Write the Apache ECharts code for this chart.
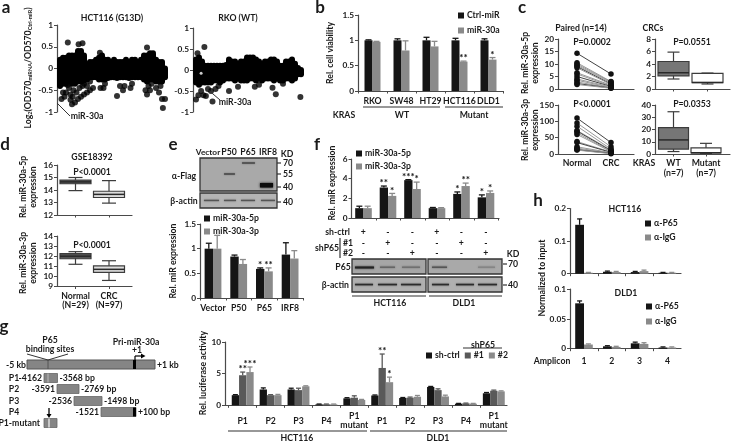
<!DOCTYPE html>
<html><head><meta charset="utf-8">
<style>html,body{margin:0;padding:0;background:#fff}#c{width:731px;height:441px}</style>
<script src="https://cdn.jsdelivr.net/npm/echarts@6/dist/echarts.min.js"></script>
</head><body><div id="c"></div>
<script>
// ---------- data ----------
// a: blob columns (top / bottom of the dense dot cloud, per miRNA column) and separate dots [column, log2 ratio]
const hctTop=[.2,.25,.25,.3,.3,.3,.4,.4,.3,.1,.15,.15,.2,.25,.3,.2,.2,.15,.2,.15,.15,.15,.2,.15,.2,.2,.15,.2,.3,.3,.35,.35,.2,.15,.15,0];
const hctBottom=[-.4,-.35,-.35,-.3,-.35,-.35,-.3,-.3,-.28,-.25,-.2,-.2,-.2,-.25,-.25,-.25,-.22,-.2,-.2,-.22,-.2,-.2,-.2,-.22,-.2,-.2,-.2,-.2,-.25,-.3,-.25,-.25,-.3,-.3,-.3,-.2];
const hctDots=[[2.6,.6],[6.2,.56],[7.5,.58],[29,.48],[13.3,.36],[.5,-.7],[1,-.55],[1.5,-.65],[2,-.55],[3,-.45],[2.5,-.38],[3.5,-.6],[4,-.82],[4.5,-.5],[5,-.78],[3.5,-.72],[4.2,-.65],[6,-.7],[7,-.65],[8,-.6],[9,-.55],[10,-.5],[5.5,-.55],[6.5,-.45],[7.5,-.4],[8,-.35],[9,-.4],[10,-.3],[11,-.45],[13.5,-.45],[14.5,-.45],[15,-.35],[19,-.63],[20,-.4],[21,-.5],[21.5,-.4],[23.5,-.45],[24,-.35],[28.5,-.5],[29,-.6],[29.5,-.4],[30,-.5],[30.5,-.35],[32,-.45],[33,-.55],[33.5,-.4],[34,-.7],[35,-.7],[34.3,-.91]];
const rkoTop=[.25,.3,.2,.1,.1,.1,.1,.1,.1,.1,.12,.25,.2,.2,.15,.2,.2,.3,.3,.3,.25,.2,.15,.2,.2,.25,.25,.2,.1,.1,.2,.2,.25,.15,.05,0];
const rkoBottom=[-.3,-.35,-.3,-.3,-.3,-.3,-.25,-.25,-.3,-.25,-.2,-.2,-.2,-.25,-.2,-.25,-.25,-.25,-.2,-.2,-.25,-.2,-.25,-.2,-.2,-.2,-.25,-.2,-.25,-.25,-.2,-.2,-.25,-.2,-.1,-.1];
const rkoDots=[[2.8,.55],[.5,.4],[0,-.7],[1.7,-.5],[.8,-.6],[2.5,-.6],[3.3,-.62],[4,-.45],[5,-.5],[5.5,-.75],[6.5,-.45],[7.5,-.38],[11,-.5],[14,-.4],[19.6,-.4],[21,-.35],[25.5,-.42],[26.6,-.58],[29,-.33],[34.8,-.64]];
const rkoWhite=[[1.7,-.08]];
// b
const bCats=['RKO','SW48','HT29','HCT116','DLD1'];
const bCtrl=[1,1,1,1,1], bCtrlErr=[.01,.03,.06,.04,.03];
const bMir=[.97,.8,.88,.58,.62], bMirErr=[.01,.19,.1,.01,.04], bStars=['','','','**','*'];
// c
const cPairCats=['Normal','CRC'];
const c5pNormal=[14.3,10.5,10,9.5,9,8.5,6.5,6,5,4,3.5,2.8,2.2,1.8];
const c5pCrc=[6,3,2.8,2.5,2,1.8,1.5,1.2,1,.8,.6,.5,.4,.3];
const c3pNormal=[110,95,85,72,70,65,60,38,35,22,18,15,13,12];
const c3pCrc=[35,22,15,12,10,8,7,6,5,4,3,3,2,1];
const cKrasCats=['WT\n(n=7)','Mutant\n(n=7)'];
const cBox5p=[[1.6,2.1,2.6,4.4,5.9],[.8,1,1.05,2.5,2.55]];
const cBox3p=[[2,4,11.5,21.5,34.5],[.5,.8,1,5,8.7]];
// d
const dCats=['Normal\n(N=29)','CRC\n(N=97)'];
const dBox5p=[[13.95,14.5,14.65,14.8,15],[12.95,13.4,13.65,13.9,14.75]];
const dBox3p=[[11.2,11.75,12,12.25,12.45],[9.6,10.4,10.7,11.05,11.55]];
// e
const eCats=['Vector','P50','P65','IRF8'];
const e5p=[1,.84,.59,.88], e5pErr=[.11,.03,.02,.24], e5pStars=['','','*',''];
const e3p=[1,.69,.54,.8], e3pErr=[.27,.09,.07,.16], e3pStars=['','','**',''];
// f
const f5p=[1,3.1,3.85,1,2.45,2.1], f5pErr=[.2,.15,.05,.07,.2,.25], f5pStars=['','**','***','','*','*'];
const f3p=[1,2.25,2.95,1,3.25,2.55], f3pErr=[.2,.25,.7,.05,.3,.2], f3pStars=['','*','*','','**','*'];
const fShCtrl=['+','-','-','+','-','-'], fSh1=['-','+','-','-','+','-'], fSh2=['-','-','+','-','-','+'];
// g
const gCats=['P1','P2','P3','P4','P1\nmutant','P1','P2','P3','P4','P1\nmutant'];
const gCtrl=[1.6,2.5,2.5,.15,1.1,1.55,1.15,2.9,.25,1.9], gCtrlErr=[.08,.25,.2,.05,.1,.08,.08,.08,.05,.12];
const g1=[4.75,1.6,2.4,.15,1.2,5.9,1.2,2.4,.3,2.3], g1Err=[.5,.08,.3,.05,.3,2.2,.1,.2,.05,.1], g1Stars=['**','','','','','**','','','',''];
const g2=[5.25,1.6,3,.15,.85,3.65,1.35,1.4,.25,2.2], g2Err=[.8,.12,.08,.05,.08,.8,.2,.2,.05,.08], g2Stars=['***','','','','','*','','','',''];
// h
const hCats=['1','2','3','4'];
const h1P65=[.15,.006,.005,.003], h1P65Err=[.018,.002,.002,.001];
const h1IgG=[.003,.005,.008,.003], h1IgGErr=[.001,.002,.003,.001];
const h2P65=[.076,.004,.009,.002], h2P65Err=[.004,.001,.002,.001];
const h2IgG=[.007,.003,.008,.002], h2IgGErr=[.001,.001,.002,.001];

// ---------- helpers ----------
const FONT='Lato', BLACK='#151515', GRAY='#8a8a8a', DARKG='#595959', AXIS='#4a4a4a', TXT='#1a1a1a', FS=8.7;
const grids=[],xAxes=[],yAxes=[],series=[],legends=[],els=[];
const range=(n,f)=>Array.from({length:n},(_,i)=>f(i));
function panel(o){
  const i=grids.length, base=o.base===undefined?1:o.base, step=o.c2-o.c1;
  const min=base-(o.c1-o.x0)/step, max=min+(o.x1-o.x0)/step;
  grids.push({left:o.x0,top:o.yTop,width:o.x1-o.x0,height:o.yBot-o.yTop,outerBoundsMode:'none',containLabel:false});
  const n=o.cats?o.cats.length:0;
  xAxes.push({type:'value',gridIndex:i,min,max,splitLine:{show:false},
    axisLine:{show:!o.noX,onZero:false,lineStyle:{color:AXIS,width:1.2}},
    axisTick:{show:!o.noX&&!!o.tickVals,customValues:o.tickVals||[],length:2.5,lineStyle:{color:AXIS}},
    axisLabel:{show:!!o.labels,customValues:range(n,k=>k+1),margin:o.margin||10,verticalAlign:'middle',lineHeight:9.5,
      fontFamily:FONT,fontSize:FS,fontWeight:'bold',color:TXT,
      formatter:v=>o.cats?(o.cats[Math.round(v)-1]||''):''}});
  yAxes.push({type:'value',gridIndex:i,min:o.yMin,max:o.yMax,interval:o.yInt,splitLine:{show:false},
    axisLine:{show:true,onZero:false,lineStyle:{color:AXIS,width:1.2}},
    axisTick:{show:true,length:3,lineStyle:{color:AXIS}},
    axisLabel:{margin:4,fontFamily:FONT,fontSize:8.3,fontWeight:'bold',color:TXT,showMinLabel:true,showMaxLabel:true}});
  return i;
}
const bandEdges=n=>range(n+1,k=>k+.5);
function bars(p,name,vals,color,w){
  series.push({type:'bar',name,xAxisIndex:p,yAxisIndex:p,barWidth:w,barGap:0,silent:true,itemStyle:{color},
    data:vals.map((v,i)=>[i+1,v])});
}
function errs(p,vals,err,color,offset,stars,capW){
  const cap=capW||3;
  series.push({type:'custom',xAxisIndex:p,yAxisIndex:p,silent:true,z:3,encode:{x:0,y:1},
    data:vals.map((v,i)=>[i+1,v,err[i]]),
    renderItem(params,api){
      const x=api.value(0),v=api.value(1),e=api.value(2),a=api.coord([x,v]),b=api.coord([x,v+e]),X=a[0]+offset;
      const ls={stroke:color,lineWidth:1.3};
      const ch=[{type:'line',shape:{x1:X,y1:a[1],x2:X,y2:b[1]},style:ls},
                {type:'line',shape:{x1:X-cap,y1:b[1],x2:X+cap,y2:b[1]},style:ls}];
      const s=stars&&stars[params.dataIndex];
      if(s)ch.push({type:'text',style:{text:s,x:X,y:b[1]+1,align:'center',verticalAlign:'bottom',fill:'#111',font:'bold 10px '+FONT,lineHeight:8}});
      return {type:'group',children:ch};
    }});
}
function grouped(p,list,w,cap){
  const n=list.length;
  list.forEach(s=>bars(p,s.name,s.vals,s.color,w));
  list.forEach((s,k)=>errs(p,s.vals,s.err,s.color,(k-(n-1)/2)*w,s.stars,cap));
}
function boxes(p,data,fills,bw,capW){
  series.push({type:'custom',xAxisIndex:p,yAxisIndex:p,silent:true,encode:{x:0,y:[1,2,3,4,5]},
    data:data.map((d,i)=>[i+1,...d]),
    renderItem(params,api){
      const x=api.value(0),Y=k=>api.coord([x,api.value(k)]),lo=Y(1),q1=Y(2),md=Y(3),q3=Y(4),hi=Y(5),X=lo[0];
      const st={stroke:'#3c3c3c',lineWidth:1.2};
      return {type:'group',children:[
        {type:'line',shape:{x1:X,y1:hi[1],x2:X,y2:lo[1]},style:st},
        {type:'line',shape:{x1:X-capW/2,y1:hi[1],x2:X+capW/2,y2:hi[1]},style:st},
        {type:'line',shape:{x1:X-capW/2,y1:lo[1],x2:X+capW/2,y2:lo[1]},style:st},
        {type:'rect',shape:{x:X-bw/2,y:q3[1],width:bw,height:q1[1]-q3[1]},style:{fill:fills[params.dataIndex],stroke:'#3c3c3c',lineWidth:1.2}},
        {type:'line',shape:{x1:X-bw/2,y1:md[1],x2:X+bw/2,y2:md[1]},style:{stroke:'#2a2a2a',lineWidth:1.5}}
      ]};
    }});
}
function paired(p,a,b){
  a.forEach((v,i)=>series.push({type:'line',xAxisIndex:p,yAxisIndex:p,silent:true,symbol:'circle',symbolSize:5.5,
    itemStyle:{color:'#111'},lineStyle:{color:i%4==0?'#444':'#999',width:1},data:[[1,v],[2,b[i]]]}));
}
function cloud(p,top,bottom,dots,size){
  series.push({type:'custom',xAxisIndex:p,yAxisIndex:p,silent:true,encode:{x:0,y:[1,2]},
    data:top.map((t,i)=>[i,bottom[i],t]),
    renderItem(params,api){
      const a=api.coord([api.value(0),api.value(1)]),b=api.coord([api.value(0),api.value(2)]);
      return {type:'line',shape:{x1:a[0],y1:a[1],x2:b[0],y2:b[1]},style:{stroke:'#000',lineWidth:size,lineCap:'round'}};
    }});
  series.push({type:'scatter',xAxisIndex:p,yAxisIndex:p,silent:true,symbol:'circle',symbolSize:size,itemStyle:{color:'#000'},data:dots});
}
function legend(names,left,top,gap,size,orient){
  legends.push({data:names,left,top,orient:orient||'vertical',itemWidth:size||6,itemHeight:size||6,itemGap:gap,icon:'rect',padding:0,selectedMode:false,
    textStyle:{fontFamily:FONT,fontSize:FS,fontWeight:'bold',color:TXT,padding:[0,0,0,-2]}});
}
function T(text,x,y,o){o=o||{};
  els.push({type:'text',x,y,rotation:o.rot?Math.PI/2:0,z:10,silent:true,style:Object.assign({text,x:0,y:0,fill:o.fill||TXT,align:o.align||'center',verticalAlign:'middle',
    font:(o.weight||'bold')+' '+(o.size||FS)+'px '+FONT,lineHeight:o.lh||10},o.rich?{rich:o.rich}:{})});
}
function L(x1,y1,x2,y2,o){o=o||{};
  els.push({type:'line',z:o.z||9,silent:true,shape:{x1,y1,x2,y2},style:{stroke:o.c||'#333',lineWidth:o.w||1}});
}
function R(x,y,w,h,fill,o){o=o||{};
  els.push({type:'rect',z:o.z||8,silent:true,shape:{x,y,width:w,height:h},style:{fill,stroke:o.stroke||null,lineWidth:o.sw||1,shadowBlur:o.blur||0,shadowColor:o.blur?fill:undefined}});
}
function P(points,fill){els.push({type:'polygon',z:9,silent:true,shape:{points},style:{fill}});}
const ROT={rot:true};

// ---------- panel a ----------
let p=panel({x0:57,x1:165,yTop:25,yBot:112,yMin:-1,yMax:1,yInt:.5,noX:true,base:0,c1:60,c2:63});
cloud(p,hctTop,hctBottom,hctDots,6);
p=panel({x0:193,x1:302,yTop:28,yBot:112,yMin:-1,yMax:1,yInt:.5,noX:true,base:0,c1:196,c2:199});
cloud(p,rkoTop,rkoBottom,rkoDots,6);
series.push({type:'scatter',xAxisIndex:p,yAxisIndex:p,silent:true,z:5,symbol:'circle',symbolSize:3,itemStyle:{color:'#fff'},data:rkoWhite});
T('a',6,8,{size:17});T('HCT116 (G13D)',112,18);T('RKO (WT)',238,18);
T('{m|Log}{s|2}{m|(OD570}{s|miRNA}{m|/OD570}{s|Ctrl-miR}{m|)}',28,68,{rot:true,rich:{m:{font:'bold 8.7px '+FONT,fill:TXT},s:{font:'bold 5.5px '+FONT,fill:TXT,verticalAlign:'bottom',padding:[5,0,0,0]}}});
L(57,103,70,116);T('miR-30a',87,116);L(206,88,220,100);T('miR-30a',235,102);

// ---------- panel b ----------
p=panel({x0:358,x1:503,yTop:15,yBot:91,yMin:0,yMax:1.5,yInt:.5,c1:372.5,c2:401.5,cats:bCats,labels:true,tickVals:bandEdges(5),margin:10});
grouped(p,[{name:'Ctrl-miR',vals:bCtrl,err:bCtrlErr,color:BLACK},{name:'miR-30a',vals:bMir,err:bMirErr,color:GRAY,stars:bStars}],8,3);
legend(['Ctrl-miR','miR-30a'],458,11,6);
T('b',320,8,{size:17});T('Rel. cell viability',330,53,ROT);T('KRAS',344,115);T('WT',402,115);T('Mutant',474,115);
L(363,107,440,107,{w:1.2});L(445,107,503,107,{w:1.2});

// ---------- panel c ----------
p=panel({x0:558,x1:634,yTop:39,yBot:89,yMin:0,yMax:20,yInt:5,c1:577,c2:611});
paired(p,c5pNormal,c5pCrc);
p=panel({x0:558,x1:634,yTop:105,yBot:154,yMin:0,yMax:150,yInt:50,c1:577,c2:611,cats:cPairCats,labels:true,margin:9});
paired(p,c3pNormal,c3pCrc);
p=panel({x0:655,x1:730,yTop:39,yBot:89,yMin:0,yMax:8,yInt:2,c1:673.5,c2:707.5,tickVals:[1,2]});
boxes(p,cBox5p,['#767676','#fff'],31,12);
p=panel({x0:655,x1:730,yTop:105,yBot:154,yMin:0,yMax:40,yInt:10,c1:673.5,c2:706,cats:cKrasCats,labels:true,margin:14,tickVals:[1,2]});
boxes(p,cBox3p,['#767676','#fff'],30,12);
T('c',522,8,{size:17});T('Paired (n=14)',581,28);T('CRCs',653,28);T('P=0.0002',592,42);T('P=0.0551',692,42);T('P<0.0001',592,104);T('P=0.0353',692,104);
T('Rel. miR-30a-5p\nexpression',530,63,ROT);T('Rel. miR-30a-3p\nexpression',530,130,ROT);T('KRAS',644,163);

// ---------- panel d ----------
p=panel({x0:57,x1:132,yTop:165,yBot:215,yMin:12,yMax:16,yInt:1,c1:75.5,c2:109,tickVals:[1,2]});
boxes(p,dBox5p,['#555','#ddd'],31,14);
p=panel({x0:57,x1:132,yTop:236,yBot:286.5,yMin:9,yMax:14,yInt:1,c1:75.5,c2:109,cats:dCats,labels:true,margin:14,tickVals:[1,2]});
boxes(p,dBox3p,['#555','#ddd'],31,14);
T('d',5,145,{size:17});T('GSE18392',92,157);T('P<0.0001',92,172);T('P<0.0001',92,245);
T('Rel. miR-30a-5p\nexpression',28.5,187,ROT);T('Rel. miR-30a-3p\nexpression',28.5,263,ROT);

// ---------- panel e ----------
p=panel({x0:200,x1:303,yTop:224,yBot:298,yMin:0,yMax:1.5,yInt:.5,c1:213,c2:238.7,cats:eCats,labels:true,tickVals:bandEdges(4),margin:10.5});
grouped(p,[{name:'miR-30a-5p',vals:e5p,err:e5pErr,color:BLACK,stars:e5pStars},{name:'miR-30a-3p',vals:e3p,err:e3pErr,color:GRAY,stars:e3pStars}],8.4,3);
legend(['miR-30a-5p','miR-30a-3p'],204,214,4);
T('e',173,145,{size:17});T('Rel. miR expression',173,261,ROT);
T('Vector',208,152,{size:8.3});T('P50',229,152);T('P65',248,152);T('IRF8',268,152);T('KD',287,154);
R(200,158,77,33,'#a9a9a9',{stroke:'#333',sw:1.3});R(200,193,77,15,'#b4b4b4',{stroke:'#333',sw:1.3});
R(224,173.5,11,1,'#333',{blur:1.5,z:9});R(242,162.5,13,1,'#333',{blur:1.5,z:9});R(260,183,13,4.5,'#0c0c0c',{blur:2.5,z:9});
[[204,15],[224,12],[241,14],[261,14]].forEach(b=>R(b[0],199.8,b[1],1.3,'#555',{blur:1.5,z:9}));
[[163,'70'],[174,'55'],[187,'40'],[202,'40']].forEach(k=>{L(277,k[0],281,k[0],{w:1.2});T(k[1],288,k[0]);});
T('α-Flag',184,176);T('β-actin',184,201);

// ---------- panel f ----------
p=panel({x0:351.5,x1:499,yTop:159,yBot:218,yMin:0,yMax:6,yInt:2,c1:363.5,c2:388,tickVals:bandEdges(6)});
grouped(p,[{name:'miR-30a-5p',vals:f5p,err:f5pErr,color:BLACK,stars:f5pStars},{name:'miR-30a-3p',vals:f3p,err:f3pErr,color:GRAY,stars:f3pStars}],8.3,3);
legend(['miR-30a-5p','miR-30a-3p'],356,149,4);
T('f',317,145,{size:17});T('Rel. miR expression',332,183,ROT);
[[fShCtrl,232],[fSh1,243],[fSh2,253]].forEach(r=>r[0].forEach((s,i)=>T(s,363.3+24.5*i,r[1])));
T('sh-ctrl',350,232,{align:'right'});T('shP65',315,248,{align:'left'});L(340,238,340,258,{w:1.2});T('#1',343,243,{align:'left'});T('#2',343,253,{align:'left'});
R(352,259,74,15,'#a6a6a6',{stroke:'#333',sw:1.3});R(428,259,74,15,'#a9a9a9',{stroke:'#333',sw:1.3});
R(352,277,74,15,'#b0b0b0',{stroke:'#333',sw:1.3});R(428,277,74,15,'#b0b0b0',{stroke:'#333',sw:1.3});
[[355,19,2,'#222'],[380,15,1.5,'#666'],[402,18,1.5,'#707070'],[432,15,1.5,'#555'],[478,17,1.5,'#858585']].forEach(b=>R(b[0],266.5,b[1],b[2],b[3],{blur:2,z:9}));
[[355,18],[378,19],[401,20],[432,17],[456,18],[478,19]].forEach(b=>R(b[0],283.8,b[1],1.5,'#2c2c2c',{blur:1.5,z:9}));
T('P65',343,267);T('β-actin',349,285,{align:'right'});T('KD',513,254);L(503,264,507,264,{w:1.2});T('70',513,264);L(503,285,507,285,{w:1.2});T('40',513,285);
L(352,296,426,296,{w:1.2});L(429,296,502,296,{w:1.2});T('HCT116',390,303);T('DLD1',464,303);

// ---------- panel g ----------
p=panel({x0:225,x1:507,yTop:342,yBot:405.3,yMin:0,yMax:10,yInt:5,c1:242.7,c2:270.6,cats:gCats,labels:true,tickVals:bandEdges(10),margin:15.5});
grouped(p,[{name:'sh-ctrl',vals:gCtrl,err:gCtrlErr,color:BLACK},{name:'#1',vals:g1,err:g1Err,color:DARKG,stars:g1Stars},{name:'#2',vals:g2,err:g2Err,color:GRAY,stars:g2Stars}],7.3,2.5);
legend(['sh-ctrl','#1','#2'],426,351,5,6,'horizontal');
T('Rel. luciferase activity',203,373,ROT);T('shP65',483,345);L(463,348,502,348,{w:1.2});
L(228,431,367,431,{w:1.2});L(370,431,507,431,{w:1.2});T('HCT116',297,438);T('DLD1',438,438);
T('g',4,327,{size:17});
const BOX='#858585';
R(27,360,128,9,BOX,{stroke:'#555'});R(133,360,3,9,'#000',{z:9});L(48,360,48,369,{c:'#555'});
L(48,360,27,354);L(48,360,68,354);L(135,360,135,356,{w:1.2,c:'#000'});L(135,356,142,356,{w:1.2,c:'#000'});P([[141,353.5],[145.5,356],[141,358.5]],'#000');
T('-5 kb',26,365,{align:'right'});T('+1 kb',157,365,{align:'left'});T('P65',50,340);T('binding sites',50,349);T('Pri-miR-30a',136,342);T('+1',137,350);
[['P1','-4162','-3568 bp',378,44,57.5],['P2','-3591','-2769 bp',389,57,79],['P3','-2536','-1498 bp',401,74,102],['P4','-1521','+100 bp',412,101,136]].forEach(r=>{
  T(r[0],14,r[3]);T(r[1],r[4]-2,r[3],{align:'right'});T(r[2],r[5]+2,r[3],{align:'left'});
  R(r[4],r[3]-4.5,r[5]-r[4],9,BOX,{stroke:'#666',sw:.8});
});
L(48,373.5,48,382.5,{c:'#bbb'});R(133,407.5,3,9,'#000',{z:9});
L(49,408,49,415,{w:1.3,c:'#000'});P([[46.5,414],[51.5,414],[49,418]],'#000');
T('P1-mutant',40,423,{align:'right'});R(44,418.5,13,9,BOX,{stroke:'#666',sw:.8});L(49,418.5,49,427.5,{c:'#eee',w:1.3});

// ---------- panel h ----------
p=panel({x0:570,x1:681,yTop:208.5,yBot:273.7,yMin:0,yMax:.2,yInt:.1,c1:584,c2:611.8,tickVals:bandEdges(4)});
grouped(p,[{name:'α-P65',vals:h1P65,err:h1P65Err,color:BLACK},{name:'α-IgG',vals:h1IgG,err:h1IgGErr,color:GRAY}],8.8,2.5);
legend(['α-P65','α-IgG'],645,219,5);
p=panel({x0:570,x1:681,yTop:289,yBot:348.7,yMin:0,yMax:.1,yInt:.05,c1:584,c2:611.8,cats:hCats,labels:true,tickVals:bandEdges(4),margin:12});
grouped(p,[{name:'α-P65',vals:h2P65,err:h2P65Err,color:BLACK},{name:'α-IgG',vals:h2IgG,err:h2IgGErr,color:GRAY}],8.8,2.5);
legend(['α-P65','α-IgG'],646,302,6);
T('h',538,201,{size:17});T('HCT116',625,209);T('DLD1',626,293);T('Normalized to input',542,278,ROT);T('Amplicon',552,361);

const chart=echarts.init(document.getElementById('c'),null,{renderer:'canvas'});
chart.setOption({animation:false,backgroundColor:'#fff',grid:grids,xAxis:xAxes,yAxis:yAxes,legend:legends,series,graphic:{elements:els},tooltip:{show:false}});
</script></body></html>
